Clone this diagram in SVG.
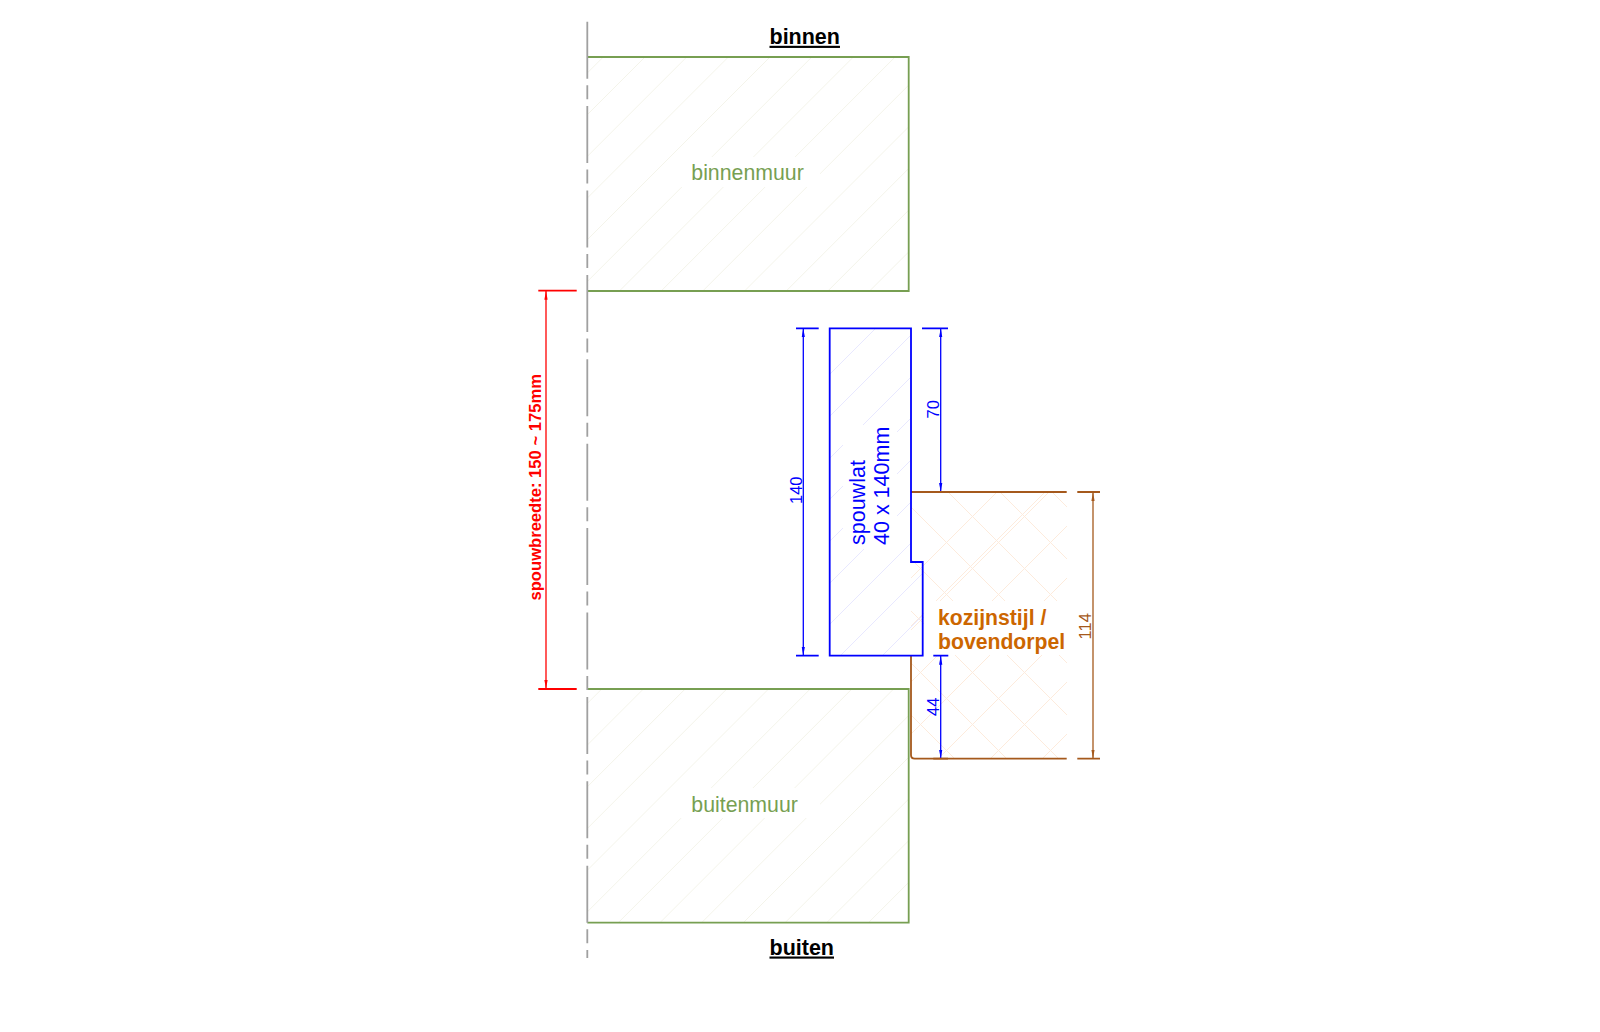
<svg xmlns="http://www.w3.org/2000/svg" width="1600" height="1032" viewBox="0 0 1600 1032">
<style>
text{font-family:"Liberation Sans",Arial,sans-serif}
.wall{fill:none;stroke:#779f52;stroke-width:1.8}
.wt{fill:#779f52;font-size:21.300px}
.head{fill:#000;font-size:21.500px;font-weight:bold;text-decoration:underline}
.hw{fill:none;stroke:#f4f4ea;stroke-width:1}
.hb{fill:none;stroke:#e8e8ff;stroke-width:1}
.hk{fill:none;stroke:#fdebdc;stroke-width:1}
.b{fill:none;stroke:#0000ff;stroke-width:1.8}
.bt{fill:#0000ff;font-size:16.500px}
.br{fill:none;stroke:#a5591c;stroke-width:1.8}
.dim-b{stroke:#0000ff;stroke-width:1.3;fill:none;marker-start:url(#ab);marker-end:url(#ab)}
.dim-br{stroke:#a5591c;stroke-width:1.3;fill:none;marker-start:url(#abr);marker-end:url(#abr)}
.dim-r{stroke:#ff0000;stroke-width:1.3;fill:none;marker-start:url(#ar);marker-end:url(#ar)}
</style>
<defs>
<marker id="ab" markerUnits="userSpaceOnUse" markerWidth="10" markerHeight="5" refX="9" refY="2.5" orient="auto-start-reverse"><path d="M0 .9L9 2.5L0 4.1z" fill="#0000ff"/></marker>
<marker id="abr" markerUnits="userSpaceOnUse" markerWidth="10" markerHeight="5" refX="9" refY="2.5" orient="auto-start-reverse"><path d="M0 .9L9 2.5L0 4.1z" fill="#a5591c"/></marker>
<marker id="ar" markerUnits="userSpaceOnUse" markerWidth="10" markerHeight="5" refX="9" refY="2.5" orient="auto-start-reverse"><path d="M0 .9L9 2.5L0 4.1z" fill="#ff0000"/></marker>
<clipPath id="c1"><rect x="587" y="57" width="322" height="234"/></clipPath>
<clipPath id="c2"><rect x="587" y="689" width="322" height="234"/></clipPath>
<clipPath id="c3"><path d="M830 328H911V562H923V656H830z"/></clipPath>
<clipPath id="c4"><rect x="911" y="492" width="156" height="267"/></clipPath>
</defs>
<rect width="1600" height="1032" fill="#fff"/>

<g id="kozijn">
<g clip-path="url(#c4)">
<path class="hk" d="M1489 0L689 800M1541 0L741 800M1437 100L837 700M1593 0L793 800M1645 0L845 800M1697 0L897 800M1749 0L949 800M1801 0L1001 800M1853 0L1053 800M1905 0L1105 800M1957 0L1157 800M2009 0L1209 800"/>
<path class="hk" d="M404 0L1204 800M352 0L1152 800M300 0L1100 800M248 0L1048 800M196 0L996 800M144 0L944 800M92 0L892 800M40 0L840 800M456 0L1256 800M508 0L1308 800M560 0L1360 800M612 0L1412 800M664 0L1464 800"/>
</g>
<rect x="924" y="601" width="150" height="54" fill="#fff"/>
<path class="br" d="M911 492H1066.700M1077.300 492H1100M911 655.700V755Q911 758.700 914.700 758.700H1066.700M1077.300 758.700H1100"/>
<text x="938" y="625" fill="#cc6600" font-size="21.200" font-weight="bold">kozijnstijl /</text>
<text x="938" y="649" fill="#cc6600" font-size="21.200" font-weight="bold">bovendorpel</text>
</g>

<g id="binnenmuur">
<g clip-path="url(#c1)">
<path class="hw" d="M603.300 57L303.300 357M645 57L345 357M686.700 57L386.700 357M728.400 57L328.400 457M770 57L370 457M811.800 57L411.800 457M853.400 57L453.400 457M895.100 57L495.100 457M936.800 57L636.800 357M978.500 57L678.500 357M1020.200 57L720.200 357M1061.900 57L761.900 357M1103.600 57L803.600 357M1145.300 57L845.300 357M1187 57L887 357"/>
</g>
<rect x="680" y="157" width="140" height="30" fill="#fff"/>
<path class="wall" d="M587.300 57H908.700V291H587.300"/>
<text class="wt" x="691.300" y="180">binnenmuur</text>
</g>

<g id="buitenmuur">
<g clip-path="url(#c2)">
<path class="hw" d="M601.700 689L301.700 989M643.400 689L343.400 989M685.100 689L385.100 989M726.800 689L426.800 989M768.500 689L468.500 989M810.200 689L510.200 989M851.900 689L551.900 989M893.600 689L593.600 989M935.300 689L635.300 989M977 689L677 989M1018.700 689L718.700 989M1060.400 689L760.400 989M1102.100 689L802.100 989M1143.800 689L843.800 989M1185.500 689L885.500 989"/>
</g>
<rect x="680" y="788" width="140" height="30" fill="#fff"/>
<path class="wall" d="M587.300 689H908.700V922.700H587.300"/>
<text class="wt" x="691.300" y="811.700">buitenmuur</text>
</g>

<g id="spouwlat">
<g clip-path="url(#c3)">
<path class="hb" d="M1204 0L404 800M1246 0L446 800M1288 0L488 800M1329 0L529 800M1371 0L571 800M1413 0L613 800M1454 0L654 800M1496 0L696 800M1538 0L738 800M1579 0L779 800"/>
</g>
<rect x="843" y="425" width="54" height="124" fill="#fff"/>
<path class="b" d="M829.700 328.300H911V562H922.700V655.700H829.700z"/>
<text transform="translate(865 545) rotate(-90)" fill="#0000ff" font-size="21.500">spouwlat</text>
<text transform="translate(889 545) rotate(-90)" fill="#0000ff" font-size="21.500">40 x 140mm</text>
</g>

<g id="hartlijn">
<path d="M587.300 21.700V958" fill="none" stroke="#a0a0a0" stroke-width="1.800" stroke-dasharray="57 6.500 14 6.900"/>
</g>

<g id="connectors">
<path class="b" d="M796 328.300H818.700M796 655.700H818.700M922 328.300H948M933.300 655.700H948.300M922 492H948"/>
<path class="dim-b" d="M803.300 328.300V655.700"/>
<path class="dim-b" d="M940.700 328.300V492"/>
<path class="dim-b" d="M940.700 655.700V758.700"/>
<path class="dim-br" d="M1093 492V758.700"/>
<path class="br" d="M922 492H948M933.300 758.700H948"/>
<path d="M538.300 290.700H576.700M538.300 689H576.700" stroke="#ff0000" stroke-width="1.800" fill="none"/>
<path class="dim-r" d="M546 290.700V689"/>
</g>

<g id="labels">
<text class="bt" transform="translate(801.500 504) rotate(-90)">140</text>
<text class="bt" transform="translate(938.500 418.500) rotate(-90)">70</text>
<text class="bt" transform="translate(938.500 716) rotate(-90)">44</text>
<text transform="translate(1091 639.500) rotate(-90)" fill="#a5591c" font-size="16.500">114</text>
<text transform="translate(540.700 600.500) rotate(-90)" fill="#ff0000" font-size="16.600" font-weight="bold">spouwbreedte: 150 ~ 175mm</text>
<text class="head" x="769.500" y="43.800">binnen</text>
<text class="head" x="769.500" y="954.500">buiten</text>
</g>
</svg>
